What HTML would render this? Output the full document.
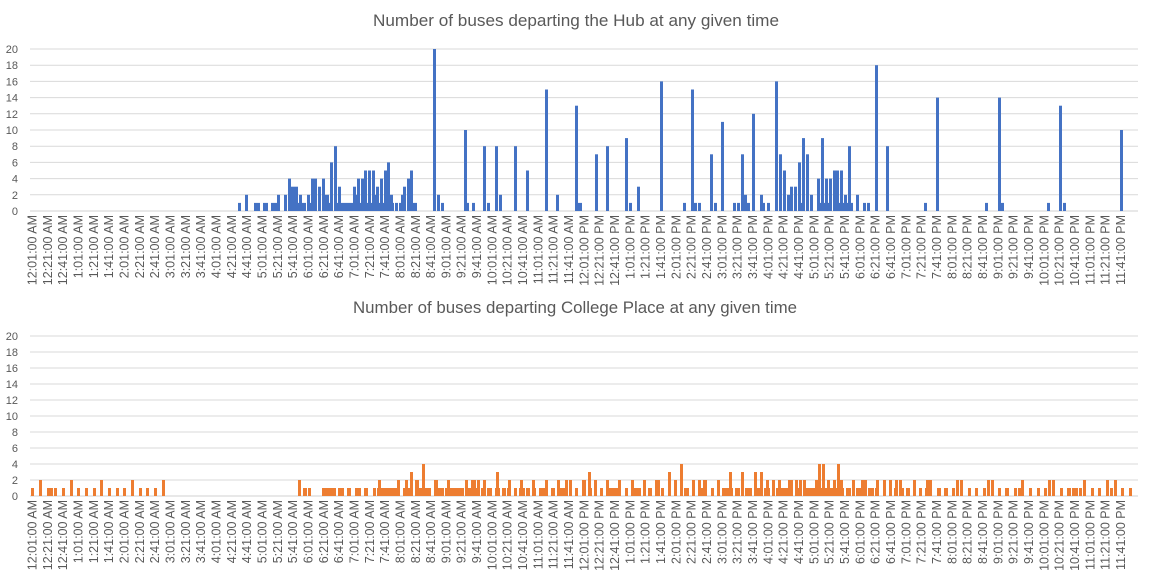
<!DOCTYPE html>
<html><head><meta charset="utf-8"><style>
html,body{margin:0;padding:0;background:#fff;}
svg{display:block;font-family:"Liberation Sans",sans-serif;}
</style></head><body>
<svg id="s" width="1152" height="576" xmlns="http://www.w3.org/2000/svg">
<text x="576" y="26" text-anchor="middle" font-size="17" fill="#595959" textLength="406" lengthAdjust="spacingAndGlyphs">Number of buses departing the Hub at any given time</text>
<text x="575" y="313" text-anchor="middle" font-size="17" fill="#595959" textLength="444" lengthAdjust="spacingAndGlyphs">Number of buses departing College Place at any given time</text>
</svg>
<script>
(function(){
var s=document.getElementById('s'),NS='http://www.w3.org/2000/svg';
function el(t,a,txt){var e=document.createElementNS(NS,t);for(var k in a)e.setAttribute(k,a[k]);if(txt!=null)e.textContent=txt;s.appendChild(e);return e;}
function axes(y0,u,ly){
 for(var v=0;v<=20;v+=2){var y=y0-v*u;
  el('line',{x1:30,x2:1138,y1:y,y2:y,stroke:v==0?'#d0d0d0':'#d9d9d9','stroke-width':1});
  el('text',{x:18,y:y+4,'text-anchor':'end','font-size':11,fill:'#595959'},String(v));}
 for(var i=0;i<72;i++){var m=i*20+1,h=Math.floor(m/60),mm=m%60;var ap=h<12?'AM':'PM';var hh=h%12;if(hh==0)hh=12;
  var t=hh+':'+(mm<10?'0':'')+mm+':00 '+ap;var cx=32+15.33*i+4.5;
  el('text',{x:cx,y:ly,'text-anchor':'end','font-size':12.5,fill:'#595959',transform:'rotate(-90 '+cx+' '+ly+')'},t);}
}
axes(211,8.1,215);axes(496,8,500);
var hub=[[238,3,1],[245,3,2],[254,6,1],[263,5,1],[271,6,1],[277,3,2],[284,3,2],[288,3,4],[291,7,3],[298,1,1],[299,3,2],[302,4,1],[307,3,2],[310,1,1],[311,6,4],[318,3,3],[322,3,4],[325,4,2],[329,1,1],[330,3,6],[334,3,8],[337,1,1],[338,3,3],[341,12,1],[353,3,3],[356,1,2],[357,3,4],[360,1,1],[361,3,4],[364,3,5],[367,1,1],[368,3,5],[371,1,1],[372,3,5],[375,1,2],[376,3,3],[379,1,1],[380,3,4],[383,1,1],[384,3,5],[387,3,6],[390,3,2],[393,1,1],[395,3,1],[399,2,1],[401,2,2],[403,3,3],[407,3,4],[410,3,5],[413,4,1],
[433,3,20],[437,3,2],[441,3,1],[464,3,10],[467,2,1],[472,3,1],[483,3,8],[487,3,1],[495,3,8],[499,3,2],[514,3,8],[526,3,5],[545,3,15],[556,3,2],[575,3,13],[578,4,1],[595,3,7],[606,3,8],[625,3,9],[629,3,1],[637,3,3],
[660,3,16],[683,3,1],[691,3,15],[694,3,1],[698,3,1],[710,3,7],[714,3,1],[721,3,11],[733,3,1],[737,3,1],[741,3,7],[744,3,2],[747,3,1],[752,3,12],[760,3,2],[763,2,1],[767,3,1],[775,3,16],[779,3,7],[783,3,5],[787,3,2],[790,3,3],[794,3,3],[798,3,6],[801,1,1],[802,3,9],[806,3,7],[810,3,2],[817,3,4],[820,1,1],[821,3,9],[824,1,1],[825,3,4],[828,1,1],[829,3,4],[833,3,5],[836,3,5],[839,1,1],[840,3,5],[843,1,1],[844,3,2],[847,1,1],[848,3,8],[851,2,1],[856,3,2],[863,3,1],[867,3,1],[875,3,18],[886,3,8],
[924,3,1],[936,3,14],[985,3,1],[998,3,14],[1001,3,1],[1047,3,1],[1059,3,13],[1063,3,1],[1120,3,10]];
hub.forEach(function(b){el('rect',{x:b[0],y:211-b[2]*8.1,width:b[1],height:b[2]*8.1,fill:'#4472c4'});});
var bot=[[28,[[9,18,1],[33,42,2],[57,75,1],[78,87,1],[102,111,1],[126,135,2],[147,156,1],[171,180,1],[195,204,1],[216,225,2],[240,249,1],[264,273,1],[285,294,1],[309,318,2],[333,342,1],[354,363,1],[378,387,1],[402,411,2],[810,819,2],[825,837,1]]],
[300,[[9,21,1],[24,33,1],[66,108,1],[114,132,1],[141,153,1],[165,183,1],[192,204,1],[219,228,1],[231,234,1],[234,243,2],[243,291,1],[291,300,2],[309,315,1],[315,324,2],[324,330,1],[330,339,3],[345,357,2],[357,366,1],[366,375,4],[375,393,1],[402,414,2],[414,432,1],[435,441,1],[441,450,2],[450,492,1],[495,504,2],[504,513,1],[513,528,2],[528,531,1],[531,540,2],[543,549,1],[549,558,2],[561,576,1],[585,588,1],[588,597,3],[597,600,1],[606,618,1],[621,624,1],[624,633,2],[642,651,1],[657,660,1],[660,669,2],[669,675,1],[678,690,1],[696,705,2],[705,708,1],[717,735,1],[735,744,2],[753,765,1],[771,780,2],[780,789,1],[789,795,1],[795,804,2],[807,816,2],[825,834,1]]],
[575,[[0,9,1],[21,33,2],[39,48,3],[48,51,1],[57,66,2],[75,84,1],[93,102,2],[102,129,1],[129,138,2],[150,159,1],[168,177,2],[177,198,1],[204,213,2],[219,231,1],[240,255,2],[258,267,1],[279,288,3],[297,306,2],[315,324,4],[327,342,1],[351,360,2],[369,378,2],[378,384,1],[384,396,2],[408,417,1],[426,435,2],[441,462,1],[462,471,3],[471,474,1],[480,495,1],[498,507,3],[510,531,1],[537,546,3],[546,555,1],[555,564,3],[567,573,1],[573,582,2],[582,585,1],[591,600,2],[603,609,1],[609,618,2],[618,639,1],[639,654,2],[660,669,2],[669,672,1],[672,681,2],[684,693,2],[693,720,1],[720,729,2],[729,738,4],[738,741,1],[741,750,4],[750,756,1],[756,765,2],[765,774,1],[774,783,2],[783,786,1],[786,795,4],[795,804,2],[804,807,1],[813,828,1],[831,840,2]]],
[850,[[0,3,1],[6,15,2],[18,33,1],[33,51,2],[54,72,1],[75,78,1],[78,87,2],[99,108,2],[117,126,2],[132,135,1],[135,144,2],[147,156,2],[156,162,1],[168,180,1],[189,198,2],[207,216,1],[225,228,1],[228,246,2],[261,273,1],[282,294,1],[306,315,1],[318,327,2],[330,339,2],[354,363,1],[375,384,1],[399,408,1],[411,420,2],[423,432,2],[444,453,1],[465,477,1],[492,501,1],[504,513,1],[513,522,2],[537,546,1],[561,570,1],[582,591,1],[594,603,2],[606,615,2],[630,639,1],[651,663,1],[666,684,1],[687,696,1],[699,708,2],[723,732,1],[744,753,1],[768,777,2],[780,789,1],[792,801,2],[813,822,1],[837,846,1]]]];
bot.forEach(function(g){g[1].forEach(function(b){var x=g[0]+b[0]/3,w=(b[1]-b[0])/3;el('rect',{x:x,y:496-b[2]*8,width:w,height:b[2]*8,fill:'#ed7d31'});});});
})();
</script>
</body></html>
